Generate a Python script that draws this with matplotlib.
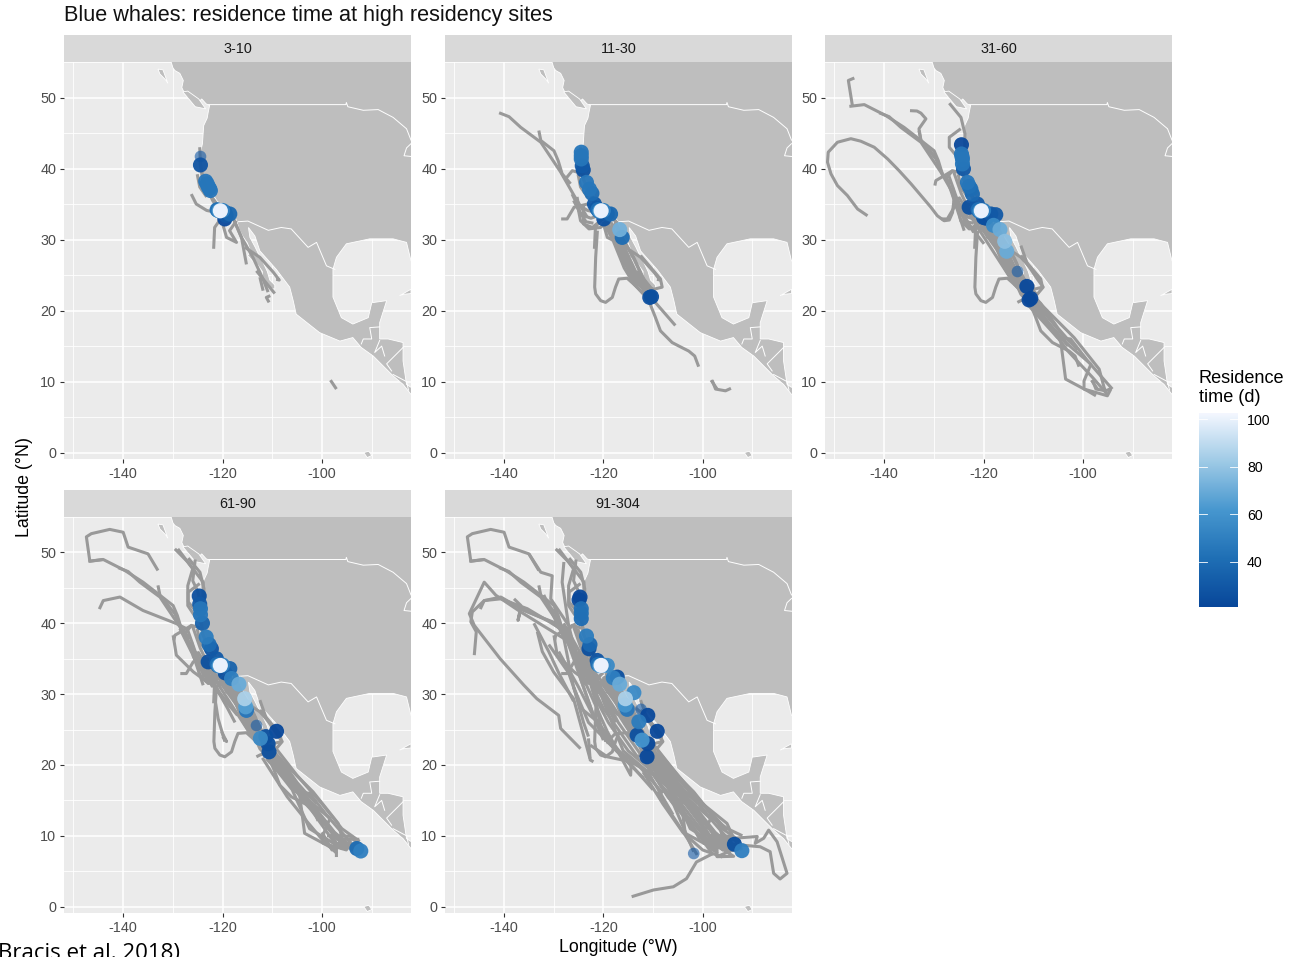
import numpy as np
import matplotlib
matplotlib.use("Agg")
import matplotlib.pyplot as plt
from matplotlib.colors import LinearSegmentedColormap, Normalize
from matplotlib.patches import Polygon

plt.rcParams['font.family'] = ['Liberation Sans', 'DejaVu Sans']

TITLE = "Blue whales: residence time at high residency sites"
PANEL_NAMES = ["3-10", "11-30", "31-60", "61-90", "91-304"]
X_TICKS = [-140, -120, -100]
X_MINOR = [-150, -130, -110, -90]
Y_TICKS = [0, 10, 20, 30, 40, 50]
Y_MINOR = [5, 15, 25, 35, 45, 55]
LEGEND_TICKS = [40, 60, 80, 100]

# ---- land outline (lon, lat)
LAND_LON = [-131, -130.3, -130, -129.6, -128.6, -127.9, -128.2, -127.6, -126.6, -124.9, -124.2, -123.3, -122.6, -122.9, -123.1, -123.8, -124.05, -124.6, -125, -124.2, -123.2,
            -121.2, -119.5, -117.5, -117.1, -116.7, -116, -115, -114.3, -115, -114, -113, -112, -112, -110.5, -109.5,
            -109.5, -110.5, -111, -112, -112.8, -113.5, -114.5, -114.8, -113.5, -112.5, -109.2, -106.5, -105.8, -105.2,
            -100.5, -96.4, -93.8, -92.1, -89.7, -85.7, -83.7, -82.1, -80, -80, -82.1, -83, -83.7, -83.7, -86.7, -88.4,
            -88.4, -87, -90, -90.7, -93.8, -96.1, -97.8, -97.8, -97.1, -95.1, -90.4, -85.7, -83, -82.1, -80, -80, -131]
LAND_LAT = [56, 54.9, 54.2, 53.8, 53.4, 52.4, 51.4, 50.5, 50.2, 49.3, 49.8, 49.1, 48.9, 47.9, 47.1, 46.05, 43.5, 41.8, 40.6, 39.2, 37.8,
            35.5, 34.3, 33.1, 32.5, 31.5, 30.5, 29.5, 28.2, 27.8, 27, 26.5, 25.5, 24.6, 23.2, 23,
            23.6, 24.3, 25.5, 27, 28, 29, 30.3, 31.7, 30.5, 28.4, 25.8, 23.3, 21.4, 19.5,
            16.9, 15.7, 16.2, 14.8, 13.6, 10.8, 9.6, 8.2, 8, 9.3, 9.2, 9.6, 12.9, 15.5, 16, 16,
            18.3, 21.4, 21.1, 19, 18.1, 19, 21.9, 25.8, 27.5, 29.4, 30.1, 30.1, 29.6, 27, 26, 56, 56]
ISLAND_LONS = [[-133, -132, -131, -131.6, -132.6],
               [-128, -125.5, -123.4, -124.8, -127],
               [-82.1, -84.4, -83.5, -82.1],
               [-91.6, -90.6, -90, -90.9]]
ISLAND_LATS = [[54, 53.9, 52, 52.6, 53.3],
               [50.8, 48.7, 48.4, 49.8, 50.9],
               [23, 22.1, 22.3, 22.4],
               [0, 0.2, -0.4, -0.7]]
BORDER_LONS = [[-122.8, -95.2, -95.1, -94.8, -91.7, -88.7, -85.7, -83, -82.1],
               [-117.1, -114.9, -110.8, -108.2, -106.2, -102.8, -101.1, -99.1, -97.4],
               [-92.1, -91.7, -90, -90.4, -88.4],
               [-88.4, -89.4, -88, -87.4],
               [-83.7, -87, -86],
               [-85.7, -83, -82.6],
               [-82.1, -83, -83.5, -82.1]]
BORDER_LATS = [[49, 49, 49.3, 48.7, 48.2, 48.3, 47.2, 45.6, 44],
               [32.5, 32.6, 31.3, 31.7, 31.5, 28.9, 29.6, 26.3, 25.8],
               [15.3, 16, 16, 17.6, 17.7],
               [15.8, 14.1, 15, 13.6],
               [14.8, 12.5, 11.5],
               [11, 10, 8.8],
               [43.5, 42.9, 41.8, 41.7]]

# ---- tracks: stages are cumulative from one panel to the next
TRACKS_A = [
    ([-124.6, -124.45, -123.9, -122.6, -120.6, -117.9, -116.2, -115.2], [43, 40.65, 38.3, 36.4, 34.5, 33.1, 30.3, 26.5]),
    ([-124.5, -124, -123, -122, -120.5], [41, 38.5, 37, 35.5, 34]),
    ([-125.1, -124.6, -123.2], [39.2, 37.4, 36]),
    ([-126.3, -125.3, -123.2, -121.2], [36.4, 35, 34.1, 33.8]),
    ([-120.6, -121.6, -121.8], [32.7, 31.7, 28.7]),
    ([-119.9, -119.2, -117.2, -118.6, -117.2], [32, 30.3, 29.6, 31.25, 32.65]),
    ([-117.9, -116.2, -113.9, -111.85, -110.85], [33, 30.3, 27.5, 24.4, 22.6]),
    ([-115.5, -112.5, -109.8, -108.6, -109.2], [28.9, 27.5, 25.4, 24.3, 24.4]),
    ([-113.2, -109.5], [25.6, 22.4]),
    ([-112.5, -111.85], [24.7, 22.8]),
    ([-110.4, -111.2, -110.65], [22.1, 21.85, 21.15]),
    ([-98.3, -97.1], [10.2, 8.95]),
]
TRACKS_B = [
    ([-141, -139, -136.65, -132.6, -128.6, -125.9, -123.2], [47.85, 47.3, 45.8, 43.7, 39.5, 36.2, 33.1]),
    ([-133, -132.6, -129.95, -129.1, -128.3, -126.6], [45.35, 43.95, 42.5, 41.1, 39.25, 37.85]),
    ([-127.6, -126.25, -123.9], [38.55, 39.7, 39.2]),
    ([-128.5, -127.3, -125.9, -123.2, -121.2], [32.9, 32.9, 34.55, 35, 34.5]),
    ([-125.25, -124.6, -122.9, -120.55, -119.2], [35, 32.65, 31.5, 31.7, 32.65]),
    ([-124, -124, -122.2, -120], [35, 32.2, 31.7, 33]),
    ([-126, -124.5, -122.5, -120.5], [35.5, 33.5, 33, 33.5]),
    ([-125.3, -124.8, -123.5, -122], [36, 34, 32.5, 32.3]),
    ([-121.2, -121.55, -121.75, -121.55, -120.55, -119.55, -118.2, -117.55, -116.9, -115.2, -113.2],
     [31.25, 27.5, 23.3, 22.35, 21.4, 21.15, 21.85, 23.3, 24.45, 24.55, 23.3]),
    ([-119.2, -115.85, -113.2, -110.85], [32.2, 27, 23.3, 21.6]),
    ([-118.55, -115.2, -112.5, -109.85], [31.7, 27.5, 23.7, 21.85]),
    ([-117.2, -114.5, -111.85, -109.2], [31.25, 26.55, 23.3, 22.3]),
    ([-118, -116, -113.5, -111], [30.5, 27, 24, 22.5]),
    ([-116.5, -114, -112, -110], [30.5, 27.5, 24.5, 22.5]),
    ([-119.5, -117.5, -115, -113, -111, -110], [33, 30, 26.5, 24, 22.5, 21.5]),
    ([-118.5, -116.5, -114.5, -112, -110.2], [32.5, 29, 26, 23, 21.5]),
    ([-120, -118, -115.8, -113.8, -111.5], [32.5, 29.8, 26, 23.7, 22]),
    ([-117.5, -115.5, -113.5, -111, -109.5], [32, 28.5, 25.5, 23, 22]),
    ([-112.5, -108.5, -108.15, -109.85, -112.5], [27.75, 24.45, 23.3, 23, 23.7]),
    ([-109.85, -105.5], [21.4, 17.9]),
    ([-110.85, -109.6, -108.5, -106.15, -104.5, -102.8, -101.6, -100.8], [21.4, 19.2, 17.15, 15.5, 14.9, 14.3, 13.6, 12.1]),
    ([-98.1, -97.4, -95.4, -94.3], [10.2, 8.95, 8.7, 9.05]),
]
PANEL3_ONLY = [
    ([-146, -147.2, -146.4], [52.75, 52.4, 48.9]),
    ([-134.8, -133.4, -132.6, -131.6, -133, -132.6, -129.6], [48.15, 48.1, 47.8, 47, 45.6, 43.95, 41.6]),
    ([-143.35, -145.35, -147.4, -149.4, -150.7, -151.4, -151.25, -149.4, -146.7, -144.7, -142, -139.3, -137, -134.6,
      -132.6, -130.6, -129.3, -127.95, -126.9, -126.25, -125.9],
     [33.35, 34.3, 36.2, 37.6, 39.25, 40.9, 42.3, 43.7, 44.2, 43.85, 43, 41.35, 39.7, 37.85,
      36.2, 34.55, 33.35, 32.65, 32.75, 33.8, 35.95]),
]
TRACKS_C = [
    ([-147, -144, -139.65, -136, -132.6, -129.6, -128.3], [48.75, 49, 47.45, 45.8, 43.95, 41.35, 39.25]),
    ([-126.9, -124.55, -123.75, -123.9], [49.2, 47.2, 44.9, 40.65]),
    ([-124.6, -126.9, -126.9, -125.25, -124.6], [45.6, 44.4, 43, 41.6, 40.65]),
    ([-129.8, -129.6, -127.3, -126.25], [37.6, 38.3, 39.25, 39.7]),
    ([-127.25, -125.9, -123.9], [38.3, 35.5, 31.25]),
    ([-126.25, -125.25, -123.6, -119.9], [37.35, 35, 32.65, 29.4]),
    ([-127, -125.5, -124, -122], [39, 36, 33.5, 31]),
    ([-126, -124.5, -123.5, -120.5], [39.5, 36.5, 35, 31]),
    ([-120.55, -115.2, -112.5, -107.15, -103.1, -98.1, -95.1], [31.7, 26.55, 22.3, 18.1, 14.35, 10.6, 8.2]),
    ([-111.2, -105.15, -102.5, -99.1, -96.75, -94.1], [20.9, 16.2, 16, 12.95, 11.05, 8.95]),
    ([-110.5, -104.5, -103.5, -99.1, -97.4], [21.85, 15.75, 10.35, 8.7, 8]),
    ([-109.85, -103.15, -98.4, -99.8, -99.8, -95.1, -94.4], [20.45, 15.3, 12.45, 10.1, 8.95, 8, 8.95]),
    ([-109.2, -101.8, -96.75, -95.75, -95.1], [21.4, 16.2, 11.75, 9.15, 8]),
    ([-112.5, -111.2, -109.2, -108, -109.2, -112.5, -113.2], [29.15, 26.55, 24.45, 23.3, 22.3, 21.4, 21.15]),
    ([-123.9, -119.2, -113.9], [35, 30.8, 24.7]),
    ([-125, -121, -115, -110], [36, 31.5, 25, 20.5]),
    ([-119, -116.5, -114, -112, -109, -106, -103], [32.5, 28.5, 25, 22.5, 20, 17.5, 15]),
    ([-118, -115, -112.5, -110, -107, -104, -101], [31.5, 27.5, 24, 21.5, 19, 16.5, 14.5]),
    ([-117, -114, -111.8, -108.5, -105, -102.5], [31, 26.5, 23.5, 21, 17.5, 15.5]),
]
TRACKS_D = [
    ([-133, -135, -139, -140, -142.7, -146.4, -147.4, -146.7, -144], [47.45, 49.8, 50.75, 52.85, 53.25, 52.65, 52.2, 48.75, 49]),
    ([-144.8, -144, -140.65, -136, -129.3, -127.3], [42, 43.2, 43.7, 41.8, 39.95, 39.25]),
    ([-129.6, -127, -123.9, -124], [50.5, 48.65, 45.8, 42]),
    ([-129, -126, -127, -127, -125.25], [50.5, 47.7, 45.3, 42.5, 40.65]),
    ([-125.5, -126, -125, -124.5], [49, 46, 44.5, 43]),
    ([-129.95, -129.3, -125.9, -123.2], [38.3, 35.5, 33.15, 31.75]),
    ([-128.6, -124.6, -120.55], [39.25, 33.6, 31.25]),
    ([-127.5, -124, -121, -118], [38, 33.5, 30.5, 28]),
    ([-126.5, -123, -120, -117], [37, 33, 29.5, 27]),
    ([-121.2, -121.55, -120.9, -119.55], [31.25, 29.4, 26.55, 23.3]),
    ([-120.2, -119.2, -120], [24.7, 23.3, 24]),
    ([-123, -119, -117.5], [33, 28, 26]),
    ([-112, -107, -102, -97.5, -95, -92.2], [22.5, 18.5, 14.5, 10.5, 9, 8.5]),
    ([-110.5, -105.5, -101, -97, -92.5], [22.5, 17, 13, 9.5, 9.5]),
    ([-111, -106, -102.5, -99, -96, -93], [21, 16.5, 11, 9.5, 8.2, 8.4]),
    ([-97.1, -97.1, -94.4, -92.4], [7, 8.4, 8.7, 8.7]),
    ([-99, -96.5, -94, -92.1], [10, 10, 9.9, 8]),
    ([-116, -113, -110, -106, -103, -100, -97, -94], [29, 25, 22, 18, 15, 12.5, 10, 8.5]),
    ([-115, -112, -109, -105, -102, -99, -96], [28.5, 24, 21, 17, 14, 11.5, 9]),
    ([-114.5, -111, -108, -104, -101, -98, -95], [27, 23, 20, 15.5, 13, 10.5, 8.5]),
    ([-113, -110, -107, -103.5, -100, -97], [25.5, 22, 19.5, 15, 11.5, 8.5]),
    ([-100, -98, -96, -94, -92.5], [10.5, 8, 9.5, 8, 9.5]),
    ([-110, -105, -100, -96, -93], [23, 18.5, 14.5, 11, 9.5]),
    ([-112, -107, -103, -100, -97], [21, 15.5, 12, 9.5, 7.5]),
]
TRACKS_E = [
    ([-146, -145.6, -146.7, -146.4, -144, -140.65, -135.3, -128.6], [35.5, 38.8, 40.2, 41.6, 43.2, 43.45, 42.05, 39.25]),
    ([-124.6, -128.6, -129, -133.4, -136, -140.8, -146, -147, -144, -141.65, -136.65, -127.95],
     [22.3, 25.15, 27, 29.35, 31.25, 35, 39.7, 41.35, 45.8, 43.95, 41.6, 37.85]),
    ([-138, -136.6, -137.2, -136.6, -130.6, -127.95], [43.45, 42.5, 40.4, 42.05, 40.2, 38.8]),
    ([-133.3, -132.3, -130, -126, -122.7], [38.8, 36, 33.1, 29.35, 20.9]),
    ([-127.95, -128.3, -127, -124.6, -119.2, -114.5, -114.4], [48.65, 45.8, 39.7, 33.15, 24.7, 18.55, 20.4]),
    ([-135, -132.6, -130.3, -130.6, -127], [49.8, 47.2, 46.7, 43.45, 39.7]),
    ([-123, -122.65, -122], [23.75, 20.7, 20.45]),
    ([-122.65, -119.2, -114.5, -109.85, -105.8, -101.8], [22.8, 21.15, 20.45, 18.55, 14.35, 7.75]),
    ([-117.2, -119.2, -117.2, -111.85], [24.7, 23.3, 21.85, 18.1]),
    ([-109.2, -103.1, -101.1], [16.2, 9.65, 7.3]),
    ([-97.9, -101.25, -103.25, -105.9, -109.9, -114.3], [7.5, 6.3, 3.95, 2.8, 2.35, 1.4]),
    ([-93.75, -89, -89.4, -87.7, -86.7, -85, -83, -84.4, -85.7, -86.4, -88.4, -92.4],
     [9.65, 9.9, 8.95, 9.65, 10.8, 9.15, 4.7, 3.9, 4.7, 7.75, 8.45, 8.7]),
    ([-97.9, -95.75, -93.1, -97.1, -93.75, -98, -94], [7.75, 9.65, 8.25, 7.05, 7.1, 9, 9.9]),
    ([-111.3, -104.6, -99.1, -95.75], [23, 15.95, 10.3, 7.9]),
    ([-109.2, -102.5, -95.1], [22.1, 16.5, 10.8]),
    ([-112.5, -105.8, -100.5], [22.1, 15.95, 9.4]),
    ([-109.85, -103.1, -97.9], [18.55, 12.45, 7.3]),
    ([-108.5, -100.5, -95.1, -93.75], [20.5, 14.8, 11.75, 9.65]),
    ([-110.5, -104, -98.5, -94], [20.5, 13.5, 9, 8]),
    ([-111, -106.5, -101, -97, -92], [19.5, 16.5, 11.5, 8.5, 8.5]),
    ([-107.5, -103.5, -99.5, -96], [19, 14.5, 10.8, 8]),
    ([-108, -103, -99, -95, -92], [21, 16.5, 13, 11, 10]),
    ([-112, -108, -104, -100, -96], [19, 14.5, 10.5, 8, 7]),
    ([-125, -121.5, -117, -112, -108, -104], [38, 32, 26, 21, 18, 15]),
    ([-127, -123.5, -120, -116, -113], [38, 33, 28, 24, 21]),
    ([-129, -125, -121, -118, -114], [36, 31, 25.5, 23, 19.5]),
    ([-131, -127, -124.5, -121, -119], [37, 33, 28, 26, 23]),
    ([-126, -122.5, -120, -116, -111, -106], [40, 35, 29, 22, 19, 13]),
    ([-128, -124, -122, -119, -115, -110], [40, 35, 30, 26, 22, 19]),
    ([-125, -122, -119, -117, -113, -108], [33, 27, 24, 22, 20, 16]),
    ([-126, -123, -118, -115, -110], [31, 26, 22.5, 20.5, 16.5]),
    ([-130, -127, -125, -122, -120], [42, 37, 33, 27, 23.5]),
    ([-134, -131, -129, -126], [40, 36, 33, 29]),
    ([-132, -128, -126, -124, -123], [44, 38, 31, 26, 24]),
]
TRACK_STAGES = [TRACKS_A, TRACKS_B, TRACKS_C, TRACKS_D, TRACKS_E]

# ---- residence-time sites per panel
P1_LON = [-124.45, -123.4, -123.1, -122.9, -122.65, -122.45, -120.9, -119.55, -118.55, -119.3, -119.55, -121.1, -120.0, -120.7, -120.45]
P1_LAT = [40.5, 38.2, 37.85, 37.45, 37.2, 36.9, 34.1, 33.85, 33.6, 33.4, 32.9, 34.2, 34.1, 34.05, 34.05]
P1_VAL = [28, 45, 45, 45, 45, 45, 38, 30, 38, 30, 22, 42, 50, 60, 104]
P2_LON = [-124.45, -124.45, -124.45, -124.25, -124.05, -123.4, -122.8, -122.3, -121.8, -121.3, -120.9, -119.2, -118.55, -119.9, -116.7, -116.2, -110.65, -110.3, -121.1, -120.0, -120.7, -120.45]
P2_LAT = [42.3, 41.8, 41.35, 40.4, 39.8, 38.05, 37.1, 36.5, 35, 34.4, 34, 33.6, 33.6, 32.9, 31.4, 30.3, 21.85, 21.95, 34.2, 34.1, 34, 34.05]
P2_VAL = [45, 45, 45, 30, 25, 45, 45, 40, 30, 30, 38, 30, 38, 25, 72, 40, 25, 25, 42, 50, 60, 104]
P3_LON = [-124.45, -124.45, -124.35, -124.25, -124.25, -124.05, -123.25, -122.9, -122.55, -122.25, -122.9, -121.25, -120.9, -120, -118.55, -117.55, -119.5, -118, -116.7, -115.75, -115.35, -111.3, -110.5, -110.85, -121.1, -120.0, -120.7, -120.45]
P3_LAT = [43.35, 42.05, 41.7, 41.35, 40.65, 39.95, 38.05, 37.5, 37.1, 36.4, 34.55, 35, 34, 33.1, 33.6, 33.5, 33, 32, 31.4, 29.75, 28.35, 23.4, 21.7, 21.5, 34.2, 34.1, 34, 34.05]
P3_VAL = [22, 45, 45, 45, 45, 30, 45, 42, 40, 38, 25, 30, 38, 25, 30, 30, 25, 55, 70, 78, 70, 22, 22, 22, 42, 50, 60, 104]
P4_LON = [-124.7, -124.6, -124.45, -124.45, -124.05, -123.3, -122.7, -122.25, -122.9, -121.25, -120.9, -118.55, -119.5, -118.2, -116.7, -115.55, -115.35, -115.2, -111.3, -112.4, -110.85, -110.65, -109.15, -93.0, -92.2, -121.1, -120.0, -120.7, -120.45]
P4_LAT = [43.85, 42.7, 42.05, 41.2, 40, 38.05, 37, 36.4, 34.55, 35, 34, 33.6, 33, 32.2, 31.4, 29.35, 28.2, 27.7, 24, 23.75, 23, 21.85, 24.75, 8.2, 7.85, 34.2, 34.1, 34, 34.05]
P4_VAL = [25, 30, 45, 45, 35, 48, 40, 28, 25, 30, 38, 35, 25, 50, 70, 85, 65, 45, 25, 55, 25, 25, 20, 40, 50, 42, 50, 62, 104]
P5_LON = [-124.7, -124.9, -124.45, -124.45, -124.45, -123.4, -122.7, -122.9, -121.25, -119.2, -117.2, -118, -116.7, -113.85, -115.55, -115.6, -115.2, -111.05, -112.85, -109.15, -113.2, -112.2, -111.05, -111.2, -93.6, -92.1, -121.1, -120.0, -120.7, -120.45]
P5_LAT = [43.7, 43.3, 42.05, 41.4, 40.65, 38.2, 37, 36.4, 34.75, 34.05, 32.4, 32.3, 31.4, 30.2, 29.35, 28.45, 27.85, 27, 26.1, 24.75, 24.2, 23.5, 23, 21.15, 8.8, 7.9, 34.2, 34.1, 34, 34.05]
P5_VAL = [22, 22, 42, 42, 40, 48, 38, 25, 28, 55, 25, 50, 70, 55, 85, 60, 45, 22, 48, 20, 25, 60, 22, 22, 25, 50, 42, 50, 62, 104]
FAINT_LON = [[-124.45], [], [-113.2], [-113.3], [-112.4, -101.8]]
FAINT_LAT = [[41.75], [], [25.6], [25.6], [27.85, 7.5]]
FAINT_VAL = [[30], [], [30], [30], [30, 30]]
SITE_LON = [P1_LON, P2_LON, P3_LON, P4_LON, P5_LON]
SITE_LAT = [P1_LAT, P2_LAT, P3_LAT, P4_LAT, P5_LAT]
SITE_VAL = [P1_VAL, P2_VAL, P3_VAL, P4_VAL, P5_VAL]

W, H = 1289, 957
fig = plt.figure(figsize=(W / 100, H / 100), dpi=100, facecolor="white")
def rect(x0, y0, x1, y1):
    return [x0 / W, 1 - y1 / H, (x1 - x0) / W, (y1 - y0) / H]

cmap = LinearSegmentedColormap.from_list("res", ["#08479A", "#1F6FB5", "#4797CF", "#9ECAE6", "#F4F7FF"])
norm = Normalize(21.05, 102.7)

PANEL_X = [(64, 411), (445, 791.5), (825, 1172), (64, 411), (445, 791.5)]
PANEL_Y = [(62, 459), (62, 459), (62, 459), (517, 913), (517, 913)]
STRIP_H = 27

for i, name in enumerate(PANEL_NAMES):
    x0, x1 = PANEL_X[i]
    y0, y1 = PANEL_Y[i]
    ax = fig.add_axes(rect(x0, y0, x1, y1), facecolor="#EBEBEB")
    ax.set_xlim(-151.9, -82.1)
    ax.set_ylim(-0.9, 55)
    for s in ax.spines.values():
        s.set_visible(False)
    ax.set_xticks(X_TICKS)
    ax.set_xticklabels([str(v) for v in X_TICKS])
    ax.set_yticks(Y_TICKS)
    ax.set_xticks(X_MINOR, minor=True)
    ax.set_yticks(Y_MINOR, minor=True)
    ax.tick_params(which="major", length=3.2, width=0.8, color="#333333", labelcolor="#4D4D4D", labelsize=10.4, pad=2.5)
    ax.tick_params(which="minor", length=0)
    ax.grid(True, which="major", color="white", lw=1.15, zorder=0)
    ax.grid(True, which="minor", color="white", lw=0.6, zorder=0)
    ax.set_axisbelow(True)
    ax.add_patch(Polygon(np.column_stack([LAND_LON, LAND_LAT]), closed=True, fc="#BEBEBE", ec="white", lw=0.6, zorder=1.5))
    for lo, la in zip(ISLAND_LONS, ISLAND_LATS):
        ax.add_patch(Polygon(np.column_stack([lo, la]), closed=True, fc="#BEBEBE", ec="white", lw=0.6, zorder=1.5))
    for lo, la in zip(BORDER_LONS, BORDER_LATS):
        ax.plot(lo, la, color="white", lw=0.7, zorder=1.6)
    panel_tracks = [t for stage in TRACK_STAGES[:i + 1] for t in stage]
    if i == 2:
        panel_tracks = panel_tracks + PANEL3_ONLY
    for lo, la in panel_tracks:
        ax.plot(lo, la, color="#999999", lw=2.2, zorder=2, solid_joinstyle="round", solid_capstyle="butt")
    order = np.argsort(SITE_VAL[i])
    ax.scatter(FAINT_LON[i], FAINT_LAT[i], c=FAINT_VAL[i], cmap=cmap, norm=norm, s=70, alpha=0.6, linewidths=0, zorder=3)
    ax.scatter(np.array(SITE_LON[i])[order], np.array(SITE_LAT[i])[order], c=np.array(SITE_VAL[i])[order],
               cmap=cmap, norm=norm, s=118, alpha=0.95, linewidths=0, zorder=3)
    st = fig.add_axes(rect(x0, y0 - STRIP_H, x1, y0), facecolor="#D9D9D9")
    st.set_xticks([])
    st.set_yticks([])
    for s in st.spines.values():
        s.set_visible(False)
    st.text(0.5, 0.49, name, transform=st.transAxes, ha="center", va="center", fontsize=10.4, color="#1A1A1A")

fig.text(64 / W, 1 - 15 / H, TITLE, ha="left", va="center", fontsize=15.55, color="#111111")
fig.text(618 / W, 1 - 948 / H, "Longitude (°W)", ha="center", va="center", fontsize=12.8, color="black")
fig.text(25 / W, 1 - 487 / H, "Latitude (°N)", ha="center", va="center", rotation=90, fontsize=12.8, color="black")
fig.text(-2 / W, 1 - 954 / H, "Bracis et al. 2018)", ha="left", va="center", fontsize=16, color="black", family=["Open Sans", "DejaVu Sans"])

# colour legend
fig.text(1199 / W, 1 - 378 / H, "Residence", ha="left", va="center", fontsize=13.1, color="black")
fig.text(1199 / W, 1 - 398 / H, "time (d)", ha="left", va="center", fontsize=13.1, color="black")
cax = fig.add_axes(rect(1199, 413, 1238, 607))
cax.imshow(np.linspace(norm.vmin, norm.vmax, 256)[:, None], origin="lower", aspect="auto", cmap=cmap, norm=norm,
           extent=[0, 1, norm.vmin, norm.vmax])
for s in cax.spines.values():
    s.set_visible(False)
cax.set_xticks([])
cax.yaxis.tick_right()
cax.set_yticks(LEGEND_TICKS)
cax.tick_params(length=0, labelsize=10.2, labelcolor="black", pad=6.5)
for v in LEGEND_TICKS:
    cax.plot([0, 0.2], [v, v], color="white", lw=0.6)
    cax.plot([0.8, 1], [v, v], color="white", lw=0.6)
cax.set_xlim(0, 1)
cax.set_ylim(norm.vmin, norm.vmax)

fig.savefig("out.png", dpi=100)
